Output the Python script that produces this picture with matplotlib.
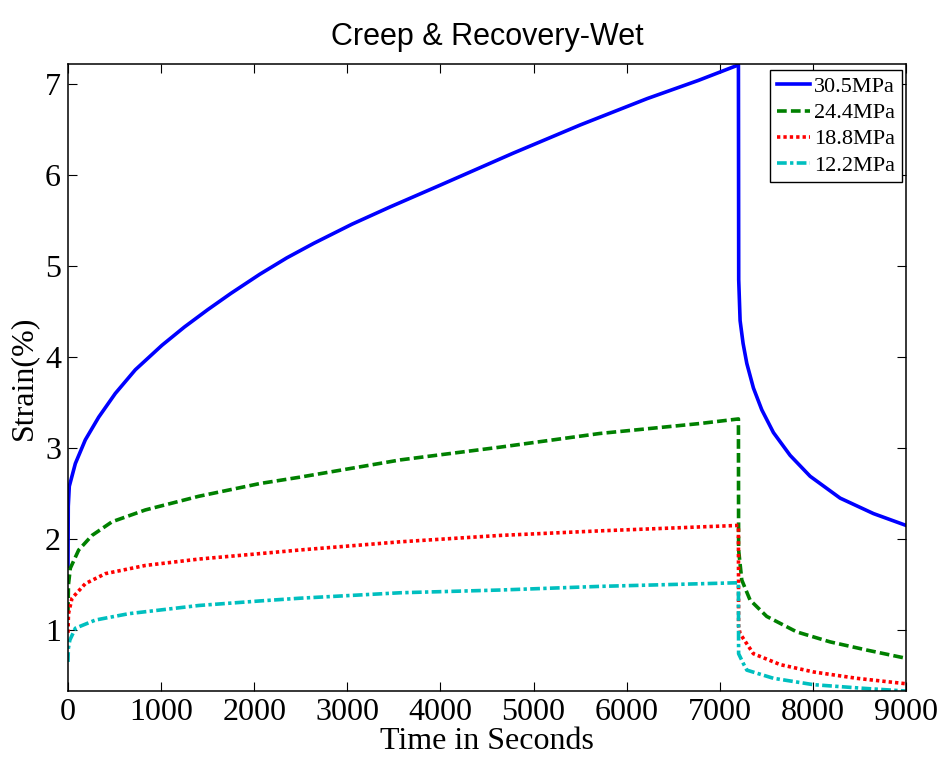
import matplotlib.pyplot as plt

# creep phase (load on until 7200 s) and recovery phase, strain in %
t_creep_305 = [0, 3, 14, 79, 186, 330, 508, 723, 1010, 1250, 1500, 1750, 2060, 2350, 2640, 3050, 3460,
               4000, 4780, 5500, 6220, 6770, 7200]
s_creep_305 = [1.70, 2.36, 2.58, 2.83, 3.09, 3.34, 3.60, 3.86, 4.13, 4.33, 4.52, 4.70, 4.91, 5.09, 5.25, 5.46, 5.65,
               5.89, 6.24, 6.55, 6.84, 7.04, 7.21]
t_rec_305 = [7200, 7203, 7218, 7250, 7290, 7361, 7451, 7576, 7755, 7970, 8292, 8650, 9000]
s_rec_305 = [7.21, 4.85, 4.40, 4.15, 3.93, 3.66, 3.42, 3.17, 2.92, 2.69, 2.45, 2.28, 2.15]

t_creep_244 = [0, 5, 25, 115, 258, 473, 831, 1404, 2060, 2490, 3570, 4640, 5710, 6790, 7200]
s_creep_244 = [1.20, 1.50, 1.68, 1.88, 2.04, 2.19, 2.32, 2.47, 2.61, 2.68, 2.87, 3.01, 3.16, 3.27, 3.32]
t_rec_244 = [7200, 7202, 7236, 7325, 7504, 7826, 8185, 8580, 9000]
s_rec_244 = [3.32, 1.88, 1.55, 1.33, 1.15, 0.98, 0.87, 0.78, 0.69]

t_creep_188 = [0, 5, 43, 186, 401, 831, 1404, 2060, 2490, 3570, 4640, 5710, 7200]
s_creep_188 = [0.97, 1.18, 1.35, 1.51, 1.62, 1.71, 1.78, 1.84, 1.88, 1.97, 2.04, 2.09, 2.15]
t_rec_188 = [7200, 7202, 7218, 7361, 7650, 8005, 8470, 9000]
s_rec_188 = [2.15, 1.04, 0.96, 0.74, 0.62, 0.54, 0.47, 0.41]

t_creep_122 = [0, 4, 20, 79, 294, 652, 1404, 2060, 2490, 3570, 4640, 5710, 7200]
s_creep_122 = [0.65, 0.80, 0.89, 1.02, 1.11, 1.18, 1.27, 1.32, 1.35, 1.41, 1.44, 1.48, 1.52]
t_rec_122 = [7200, 7202, 7254, 7290, 7576, 8005, 8540, 9000]
s_rec_122 = [1.52, 0.74, 0.63, 0.56, 0.47, 0.40, 0.36, 0.33]

labels = ['30.5MPa', '24.4MPa', '18.8MPa', '12.2MPa']

plt.rcParams['font.family'] = 'Liberation Serif'
plt.rcParams['lines.scale_dashes'] = False

fig = plt.figure(figsize=(9.43, 7.64), dpi=100)
ax = fig.add_axes([0.0721, 0.0955, 0.8887, 0.8207])

lw = 2.6
ax.plot(t_creep_305 + t_rec_305[1:], s_creep_305 + s_rec_305[1:], color='#0000ff', linestyle='-',
        linewidth=lw, label=labels[0])
ax.plot(t_creep_244 + t_rec_244[1:], s_creep_244 + s_rec_244[1:], color='#008000', linestyle=(0, (7, 3)),
        linewidth=lw, label=labels[1], dash_capstyle='butt')
ax.plot(t_creep_188 + t_rec_188[1:], s_creep_188 + s_rec_188[1:], color='#ff0000', linestyle=(0, (2.4, 2.2)),
        linewidth=lw, label=labels[2], dash_capstyle='butt')
ax.plot(t_creep_122 + t_rec_122[1:], s_creep_122 + s_rec_122[1:], color='#00bfbf', linestyle=(0, (7, 2.4, 2.4, 2.4)),
        linewidth=lw, label=labels[3], dash_capstyle='butt')

ax.set_xlim(0, 9000)
ax.set_ylim(0.33, 7.22)
ax.set_xticks(range(0, 9001, 1000))
ax.set_yticks(range(1, 8))
ax.tick_params(direction='in', length=6.5, width=0.8, top=True, right=True, labelsize=23, pad=5)
for sp in ax.spines.values():
    sp.set_linewidth(1.1)

ax.set_xlabel('Time in Seconds', fontsize=23, labelpad=0)
ax.set_ylabel('Strain(%)', fontsize=23, labelpad=5)
ax.set_title('Creep & Recovery-Wet', fontsize=22, family='Liberation Sans', pad=14)

leg = ax.legend(loc='upper right', bbox_to_anchor=(0.9952, 0.9904), borderaxespad=0,
                fontsize=16, fancybox=False, framealpha=1, edgecolor='black',
                handlelength=1.5, handletextpad=0.2, labelspacing=0.25, borderpad=0.3)
leg.get_frame().set_linewidth(1.0)

fig.patch.set_facecolor('white')
plt.savefig('out.png', dpi=100)
